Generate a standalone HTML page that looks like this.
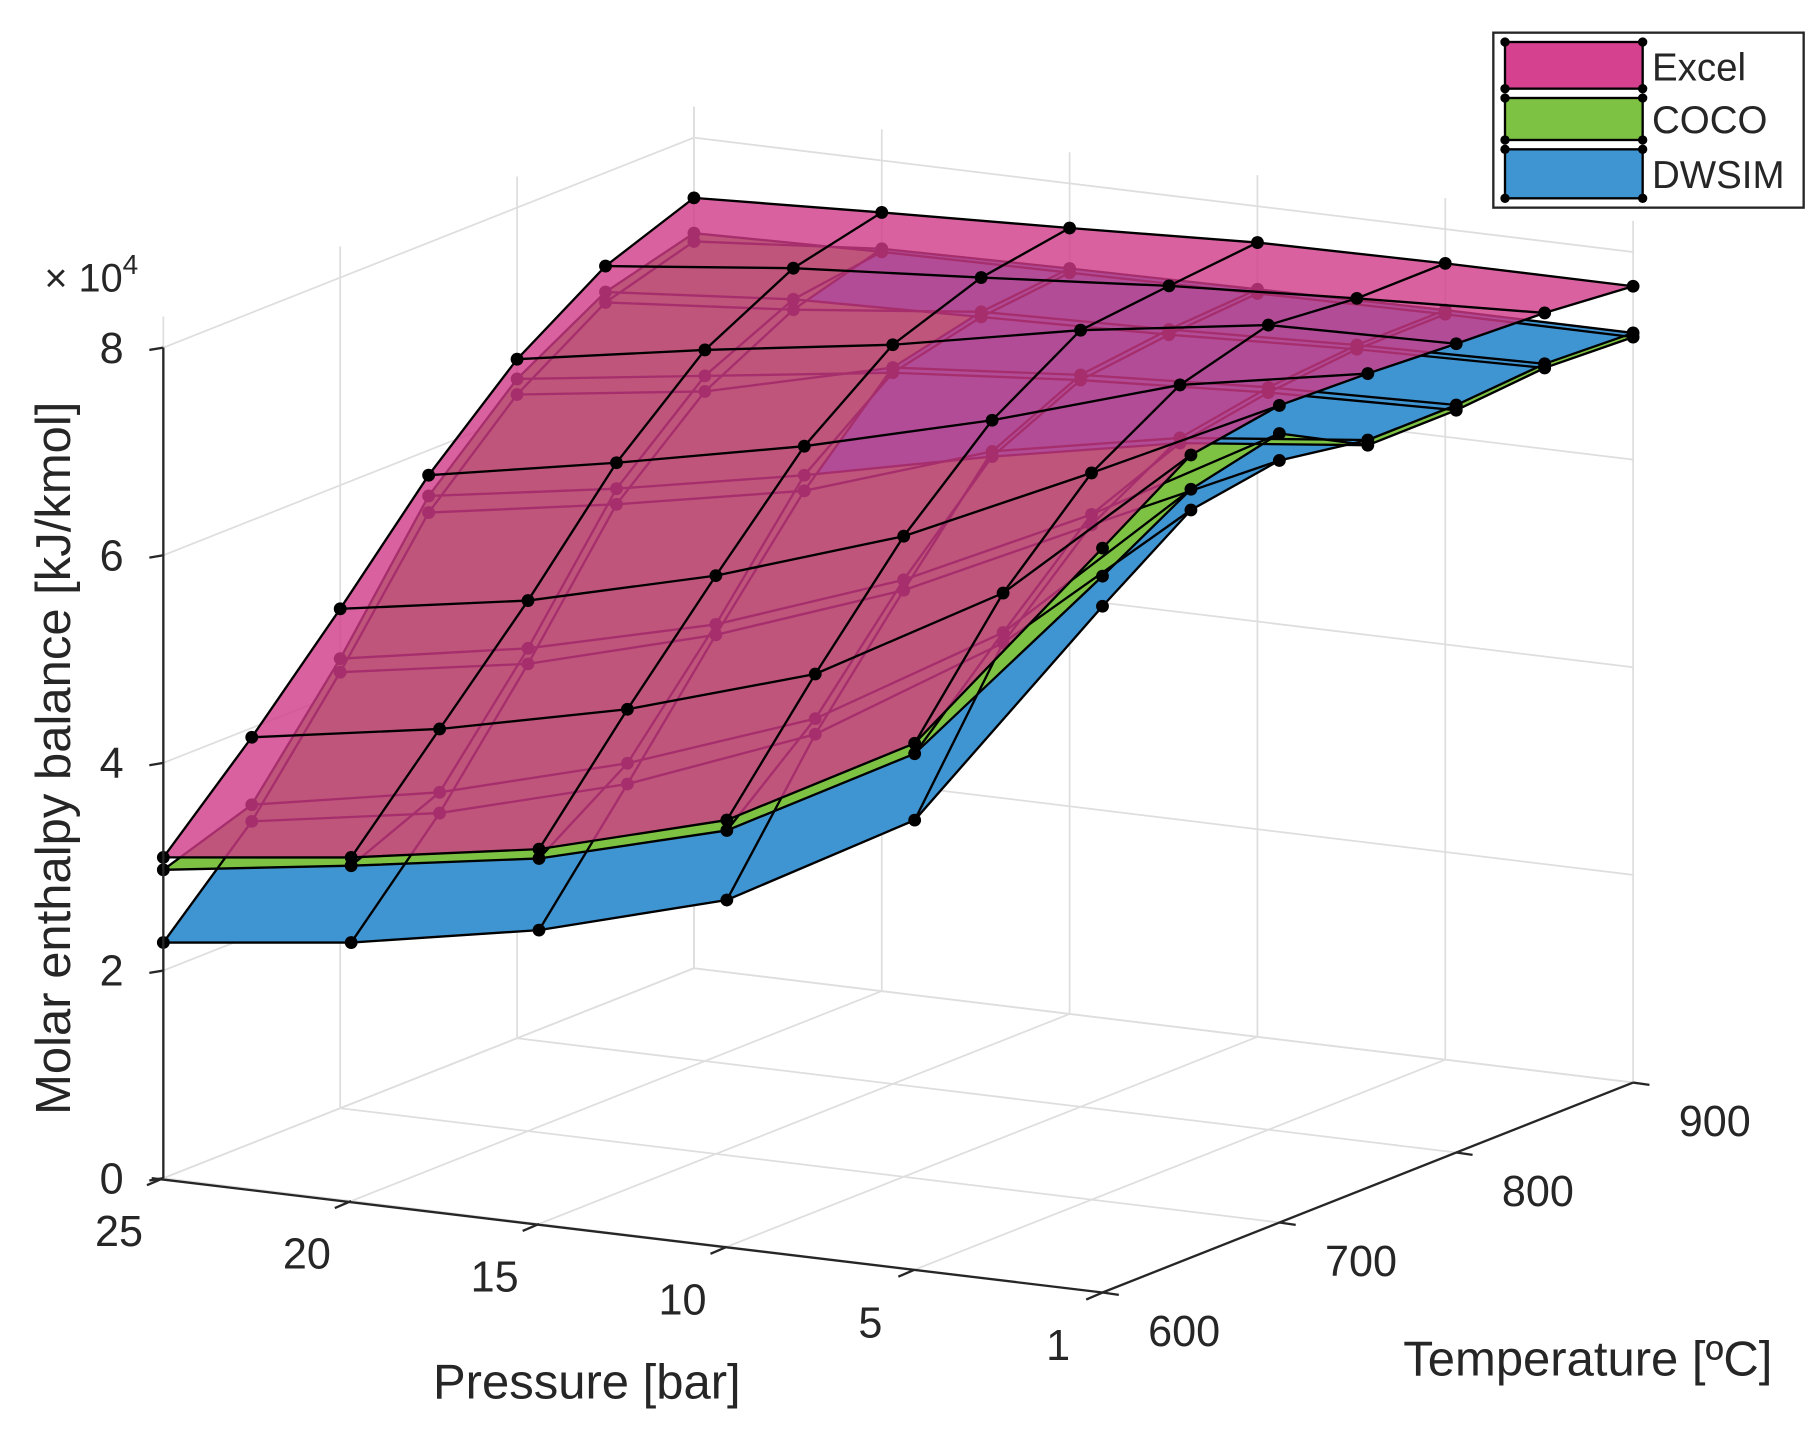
<!DOCTYPE html>
<html><head><meta charset="utf-8"><style>
html,body{margin:0;padding:0;background:#fff;}
svg{display:block;font-family:"Liberation Sans",sans-serif;}
</style></head><body>
<svg id="chart" width="1820" height="1429" viewBox="0 0 1560 1225" preserveAspectRatio="none" xmlns="http://www.w3.org/2000/svg">
<g id="grid"></g>
<g id="surfaces"></g>
<g id="axes"></g>
<text x="38" y="250" font-size="34" fill="#262626">× 10<tspan dy="-15" font-size="24">4</tspan></text>
<text transform="translate(60,650) rotate(-90)" text-anchor="middle" font-size="42" fill="#262626">Molar enthalpy balance [kJ/kmol]</text>
<text x="503" y="1199" text-anchor="middle" font-size="42" fill="#262626">Pressure [bar]</text>
<text x="1361" y="1179" text-anchor="middle" font-size="42" fill="#262626">Temperature [ºC]</text>
<g>
<rect x="1280" y="28" width="266" height="150" fill="#fff" stroke="#262626" stroke-width="2"/>
<g><rect x="1290" y="36" width="118" height="40" fill="#d6418f" stroke="#000" stroke-width="2"/><text x="1416" y="69" font-size="33" fill="#262626">Excel</text></g>
<g><rect x="1290" y="84" width="118" height="36" fill="#7dc242" stroke="#000" stroke-width="2"/><text x="1416" y="114" font-size="33" fill="#262626">COCO</text></g>
<g><rect x="1290" y="128" width="118" height="42" fill="#3f94d2" stroke="#000" stroke-width="2"/><text x="1416" y="161" font-size="33" fill="#262626">DWSIM</text></g>
<g fill="#000"><circle cx="1290" cy="36" r="4"/><circle cx="1408" cy="36" r="4"/><circle cx="1290" cy="76" r="4"/><circle cx="1408" cy="76" r="4"/><circle cx="1290" cy="84" r="4"/><circle cx="1408" cy="84" r="4"/><circle cx="1290" cy="120" r="4"/><circle cx="1408" cy="120" r="4"/><circle cx="1290" cy="128" r="4"/><circle cx="1408" cy="128" r="4"/><circle cx="1290" cy="170" r="4"/><circle cx="1408" cy="170" r="4"/></g>
</g>
</svg>
<script>
const pressures = [25, 20, 15, 10, 5, 1];
const temperatures = [600, 650, 700, 750, 800, 850, 900];
const tempTicks = [600, 700, 800, 900];
const zTicks = [0, 2, 4, 6, 8];
const excel = [
 [3.09,3.31,3.61,4.11,5.07,7.17],
 [3.91,4.21,4.62,5.18,6.18,7.73],
 [4.81,5.11,5.57,6.17,7.00,7.87],
 [5.76,6.10,6.48,6.95,7.51,7.84],
 [6.54,6.85,7.12,7.48,7.75,7.79],
 [7.10,7.30,7.43,7.57,7.67,7.75],
 [7.42,7.50,7.57,7.65,7.67,7.67]];
const coco = [
 [2.97,3.23,3.52,4.01,4.97,6.90],
 [3.26,3.60,4.10,4.75,5.80,7.40],
 [4.33,4.65,5.10,5.75,6.60,7.60],
 [5.56,5.85,6.20,6.60,6.95,7.15],
 [6.35,6.60,6.85,7.00,7.10,7.15],
 [6.85,7.00,7.05,7.10,7.18,7.22],
 [7.08,7.12,7.14,7.16,7.18,7.18]];
const dwsim = [
 [2.27,2.49,2.83,3.34,4.33,6.61],
 [3.10,3.40,3.90,4.60,5.70,7.20],
 [4.20,4.50,5.00,5.65,6.50,7.34],
 [5.40,5.70,6.05,6.65,7.00,7.20],
 [6.20,6.45,6.90,7.05,7.15,7.20],
 [6.75,6.90,7.10,7.15,7.22,7.26],
 [7.00,7.15,7.18,7.20,7.22,7.22]];

const NS = "http://www.w3.org/2000/svg";
function tPos(T){ return (T - 600) / 50; }
function proj(i, t, z){ return [140 + 161*i + 75.8*t, 1010 + 19.6*i - 30*t - 89*z]; }
function mk(tag, attrs, parent){ const e = document.createElementNS(NS, tag); for (const k in attrs) e.setAttribute(k, attrs[k]); parent.appendChild(e); return e; }
const grid = document.getElementById('grid'), surf = document.getElementById('surfaces'), axes = document.getElementById('axes');
const nP = pressures.length - 1, tMax = tPos(900);
const gs = {stroke:'#dedede','stroke-width':1.5, fill:'none'};
zTicks.forEach(z => {
 let a = proj(0,0,z), b = proj(0,tMax,z), c = proj(nP,tMax,z);
 const l = mk('polyline', Object.assign({points:`${a} ${b} ${c}`}, gs), grid);
 
 
});
tempTicks.forEach(T => {
 let a = proj(0,tPos(T),0), b = proj(0,tPos(T),8.3), c = proj(nP,tPos(T),0);
 const l = mk('polyline', Object.assign({points:`${c} ${a} ${b}`}, gs), grid);
 
 
});
pressures.forEach((p, i) => {
 let a = proj(i,0,0), b = proj(i,tMax,0), c = proj(i,tMax,8.3);
 const l = mk('polyline', Object.assign({points:`${a} ${b} ${c}`}, gs), grid);
 
 
});
function quadPts(data, i, j){
 const t0 = tPos(temperatures[j]), t1 = tPos(temperatures[j+1]);
 return [proj(i,t0,data[j][i]), proj(i+1,t0,data[j][i+1]), proj(i+1,t1,data[j+1][i+1]), proj(i,t1,data[j+1][i])];
}
function drawFace(g, data, i, j, fill, op, name){
 const q = mk('polygon', {points: quadPts(data,i,j).join(' '), fill: fill, 'fill-opacity': op, stroke: fill, 'stroke-opacity': op, 'stroke-width': 0.6}, g);
 
 
}
function drawMesh(g, data, name){
 for (let j = 0; j < temperatures.length; j++) {
  const pts = pressures.map((p,i) => proj(i, tPos(temperatures[j]), data[j][i]));
  const l = mk('polyline', {points: pts.join(' '), fill:'none', stroke: '#000', 'stroke-width': 2}, g);
  
  
 }
 for (let i = 0; i < pressures.length; i++) {
  const pts = temperatures.map((T,j) => proj(i, tPos(T), data[j][i]));
  const l = mk('polyline', {points: pts.join(' '), fill:'none', stroke: '#000', 'stroke-width': 2}, g);
  
  
 }
 for (let j = 0; j < temperatures.length; j++) for (let i = 0; i < pressures.length; i++) {
  const [x,y] = proj(i, tPos(temperatures[j]), data[j][i]);
  const c = mk('circle', {cx:x, cy:y, r:5.5, fill: '#000'}, g);
  
  
 }
}
const gLow = mk('g', {}, surf);


for (let j = temperatures.length - 2; j >= 0; j--) {
 for (let i = 0; i < nP; i++) {
  const mc = coco[j][i]+coco[j][i+1]+coco[j+1][i]+coco[j+1][i+1];
  const md = dwsim[j][i]+dwsim[j][i+1]+dwsim[j+1][i]+dwsim[j+1][i+1];
  if (md <= mc) { drawFace(gLow, dwsim, i, j, '#3f94d2', 1, 'dwsim'); drawFace(gLow, coco, i, j, '#7dc242', 1, 'coco'); }
  else { drawFace(gLow, coco, i, j, '#7dc242', 1, 'coco'); drawFace(gLow, dwsim, i, j, '#3f94d2', 1, 'dwsim'); }
 }
}
const gd = mk('g', {}, surf);


drawMesh(gd, dwsim, 'dwsim');
const gc = mk('g', {}, surf);


drawMesh(gc, coco, 'coco');
const ge = mk('g', {}, surf);


for (let j = temperatures.length - 2; j >= 0; j--) for (let i = 0; i < nP; i++) drawFace(ge, excel, i, j, '#cf3a88', 0.8, 'excel');
drawMesh(ge, excel, 'excel');
const ax = {stroke:'#262626','stroke-width':2, fill:'none'};
let z0 = proj(0,0,0), z8 = proj(0,0,8);
mk('line', Object.assign({x1:z0[0],y1:z0[1],x2:z8[0],y2:z8[1]}, ax), axes);
let pe = proj(nP,0,0);
mk('line', Object.assign({x1:z0[0]-10,y1:z0[1],x2:pe[0],y2:pe[1]}, ax), axes);
let te = proj(nP,tMax,0);
mk('line', Object.assign({x1:pe[0],y1:pe[1],x2:te[0],y2:te[1]}, ax), axes);
zTicks.forEach(z => {
 const [x,y] = proj(0,0,z);
 mk('line', Object.assign({x1:x-12,y1:y+2,x2:x,y2:y}, ax), axes);
 const t = mk('text', {x:x-34, y:y+13, 'font-size':37, fill:'#262626', 'text-anchor':'end'}, axes);
 t.textContent = z;
 
 
});
pressures.forEach((p,i) => {
 const [x,y] = proj(i,0,0);
 mk('line', Object.assign({x1:x,y1:y,x2:x-14,y2:y+6}, ax), axes);
 const t = mk('text', {x:x-38, y:y+58, 'font-size':37, fill:'#262626', 'text-anchor':'middle'}, axes);
 t.textContent = p;
 
 
});
tempTicks.forEach(T => {
 const [x,y] = proj(nP,tPos(T),0);
 mk('line', Object.assign({x1:x,y1:y,x2:x+14,y2:y+2}, ax), axes);
 const t = mk('text', {x:x+70, y:y+46, 'font-size':37, fill:'#262626', 'text-anchor':'middle'}, axes);
 t.textContent = T;
 
 
});
</script>
</body></html>
